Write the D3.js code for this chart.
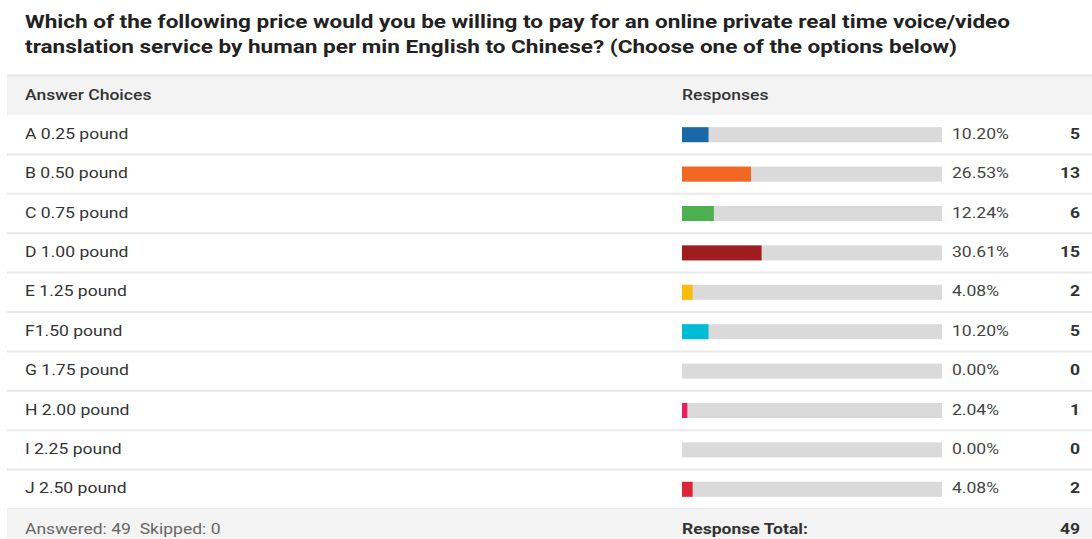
<!DOCTYPE html>
<html>
<head>
<meta charset="utf-8">
<script src="https://cdn.jsdelivr.net/npm/d3@7"></script>
<style>
  html, body { margin: 0; padding: 0; background: #fff; }
  svg { display: block; font-family: Roboto, "Noto Sans", sans-serif; }
</style>
</head>
<body>
<svg id="chart" width="1092" height="539"></svg>
<script>
// Survey question and answer data
const titleLines = [
  "Which of the following price would you be willing to pay for an online private real time voice/video",
  "translation service by human per min English to Chinese? (Choose one of the options below)"
];
const choices = ["A 0.25 pound", "B 0.50 pound", "C 0.75 pound", "D 1.00 pound", "E 1.25 pound",
                 "F1.50 pound", "G 1.75 pound", "H 2.00 pound", "I 2.25 pound", "J 2.50 pound"];
const percents = [10.20, 26.53, 12.24, 30.61, 4.08, 10.20, 0.00, 2.04, 0.00, 4.08];
const counts = [5, 13, 6, 15, 2, 5, 0, 1, 0, 2];
const barColors = ["#1a69a6", "#f26722", "#4caf50", "#a11c1e", "#fbbd0b",
                   "#00bcd4", "#9e9e9e", "#ec1e5f", "#9e9e9e", "#dc2638"];
const answered = 49, skipped = 0, total = 49;

const svg = d3.select("#chart");
const W = 1092;
const tableLeft = 7;
const headerTop = 75, headerBottom = 115, bodyBottom = 509, footerBottom = 539;
const stretch = 1.17; // wide letterforms used throughout the table

// Place a horizontally widened text at (px, py)
function wideText(sel, px, py) {
  return sel.attr("x", 0).attr("y", 0)
    .attr("transform", `translate(${px},${py}) scale(${stretch},1)`)
    .style("font-size", "15px");
}

// Title
const titleWidths = [985, 932];
svg.selectAll("text.title").data(titleLines).join("text")
  .attr("class", "title")
  .attr("x", 25)
  .attr("y", (d, i) => 28 + i * 25)
  .attr("textLength", (d, i) => titleWidths[i])
  .attr("lengthAdjust", "spacingAndGlyphs")
  .style("font-size", "19px")
  .style("font-weight", "bold")
  .style("fill", "#222")
  .text(d => d);

// Header band
svg.append("rect").attr("x", tableLeft).attr("y", headerTop)
  .attr("width", W - tableLeft).attr("height", headerBottom - headerTop)
  .attr("fill", "#f3f3f3");
svg.append("line").attr("x1", tableLeft).attr("x2", W)
  .attr("y1", headerTop + 0.5).attr("y2", headerTop + 0.5)
  .attr("stroke", "#e6e6e6").attr("stroke-width", 2);

wideText(svg.append("text"), 25, 100)
  .style("font-weight", 500).style("fill", "#333")
  .text("Answer Choices");
wideText(svg.append("text"), 682, 100)
  .style("font-weight", 500).style("fill", "#333")
  .text("Responses");

// Row and bar scales
const y = d3.scaleBand().domain(choices).range([headerBottom, bodyBottom]);
const x = d3.scaleLinear().domain([0, 100]).range([682, 942]);
const barH = 15;

const rows = svg.selectAll("g.row").data(choices.map((c, i) => ({
  label: c, pct: percents[i], count: counts[i], color: barColors[i]
}))).join("g").attr("class", "row")
  .attr("transform", d => `translate(0,${y(d.label)})`);

rows.append("line")
  .attr("x1", tableLeft).attr("x2", W)
  .attr("y1", y.bandwidth()).attr("y2", y.bandwidth())
  .attr("stroke", "#e9e9e9").attr("stroke-width", 2);

const mid = y.bandwidth() / 2;

wideText(rows.append("text"), 25, mid + 4)
  .style("fill", "#333")
  .text(d => d.label);

rows.append("rect")
  .attr("x", x(0)).attr("y", mid - barH / 2)
  .attr("width", x(100) - x(0)).attr("height", barH)
  .attr("fill", "#dadada");

rows.append("rect")
  .attr("x", x(0)).attr("y", mid - barH / 2)
  .attr("width", d => x(d.pct) - x(0)).attr("height", barH)
  .attr("fill", d => d.color);

wideText(rows.append("text"), 952, mid + 4)
  .style("fill", "#444")
  .text(d => d.pct.toFixed(2) + "%");

wideText(rows.append("text"), 1080, mid + 4)
  .attr("text-anchor", "end")
  .style("font-weight", "bold").style("fill", "#333")
  .text(d => d.count);

// Footer band
svg.append("rect").attr("x", tableLeft).attr("y", bodyBottom)
  .attr("width", W - tableLeft).attr("height", footerBottom - bodyBottom)
  .attr("fill", "#f3f3f3");
wideText(svg.append("text"), 25, 534)
  .style("fill", "#666")
  .text(`Answered: ${answered}\u00a0\u00a0Skipped: ${skipped}`);
wideText(svg.append("text"), 682, 534)
  .style("font-weight", "bold").style("fill", "#333")
  .text("Response Total:");
wideText(svg.append("text"), 1080, 534)
  .attr("text-anchor", "end")
  .style("font-weight", "bold").style("fill", "#333")
  .text(total);
</script>
</body>
</html>
